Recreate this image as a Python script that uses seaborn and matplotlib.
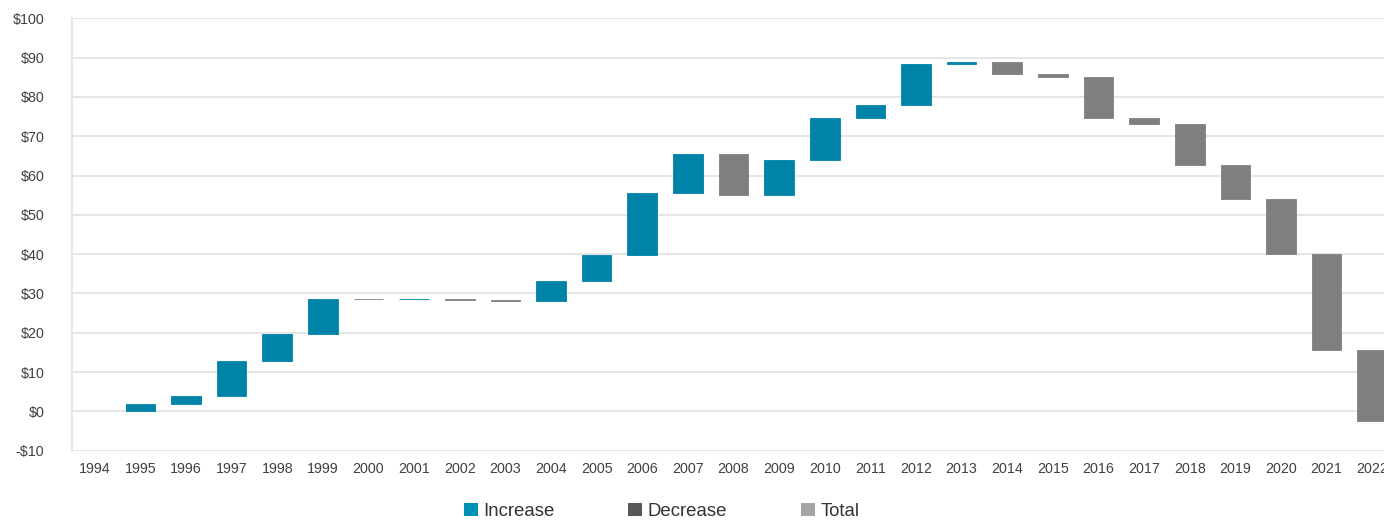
import numpy as np
import pandas as pd
import matplotlib
matplotlib.use("Agg")
import matplotlib.pyplot as plt
from matplotlib.patches import Patch
import seaborn as sns

years = [str(y) for y in range(1994, 2023)]
changes = [0.0, 1.9, 2.1, 8.9, 6.8, 8.9, -0.1, 0.1, -0.2, -0.4,
           5.1, 6.7, 15.7, 9.9, -10.3, 8.8, 10.7, 3.4, 10.4, 0.5,
           -3.1, -0.8, -10.4, -1.6, -10.4, -8.5, -14.1, -24.5, -17.9]
kinds = ["Total"] + ["Increase" if c > 0 else "Decrease" for c in changes[1:]]
y_ticks = [-10, 0, 10, 20, 30, 40, 50, 60, 70, 80, 90, 100]
legend_labels = ["Increase", "Decrease", "Total"]

bar_colors = {"Increase": "#0083a8", "Decrease": "#7f7f7f", "Total": "#a5a5a7"}
legend_colors = {"Increase": "#0090b5", "Decrease": "#58585a", "Total": "#a5a5a7"}

ends = np.cumsum(changes)
starts = ends - np.array(changes)
df = pd.DataFrame({"year": years, "delta": changes, "start": starts, "kind": kinds})

sns.set_style("white")
plt.rcParams["font.family"] = ["Liberation Sans", "DejaVu Sans"]

fig = plt.figure(figsize=(13.84, 5.2), dpi=100)
ax = fig.add_axes([0.052, 0.1333, 0.956, 0.8315])

for kind in legend_labels:
    sub = df[df["kind"] == kind]
    if sub.empty:
        continue
    # zero-height total would otherwise show up as a hairline
    lw = 0 if kind == "Total" else 0.6
    sns.barplot(data=sub, x="year", y="delta", order=years,
                bottom=sub["start"].to_numpy(), color=bar_colors[kind],
                saturation=1, width=0.65, errorbar=None, ax=ax,
                edgecolor=bar_colors[kind], linewidth=lw, zorder=3)

ax.set_xlim(-0.5, len(years) - 0.5)
ax.set_ylim(-10, 100)
ax.set_yticks(y_ticks)
ax.set_yticklabels([f"-${abs(v)}" if v < 0 else f"${v}" for v in y_ticks])
ax.set_xlabel("")
ax.set_ylabel("")

ax.grid(axis="y", color="#e3e3e3", linewidth=1.3, zorder=0)
ax.grid(axis="x", visible=False)
ax.set_axisbelow(True)
for side in ["top", "right", "bottom"]:
    ax.spines[side].set_visible(False)
ax.spines["left"].set_color("#e3e3e3")
ax.spines["left"].set_linewidth(1.3)

ax.tick_params(axis="y", length=0, pad=20, labelsize=10.3, labelcolor="#404040")
ax.tick_params(axis="x", length=0, pad=8, labelsize=10.3, labelcolor="#404040")

handles = [Patch(facecolor=legend_colors[k], edgecolor="none", label=k) for k in legend_labels]
fig.legend(handles=handles, loc="center", ncol=3, frameon=False,
           bbox_to_anchor=(0.478, 0.0165), bbox_transform=fig.transFigure,
           fontsize=13.4, handlelength=0.75, handleheight=0.75,
           handletextpad=0.3, columnspacing=3.95, labelcolor="#333333",
           borderpad=0.2)

fig.savefig("out.png", dpi=100)
plt.close(fig)
